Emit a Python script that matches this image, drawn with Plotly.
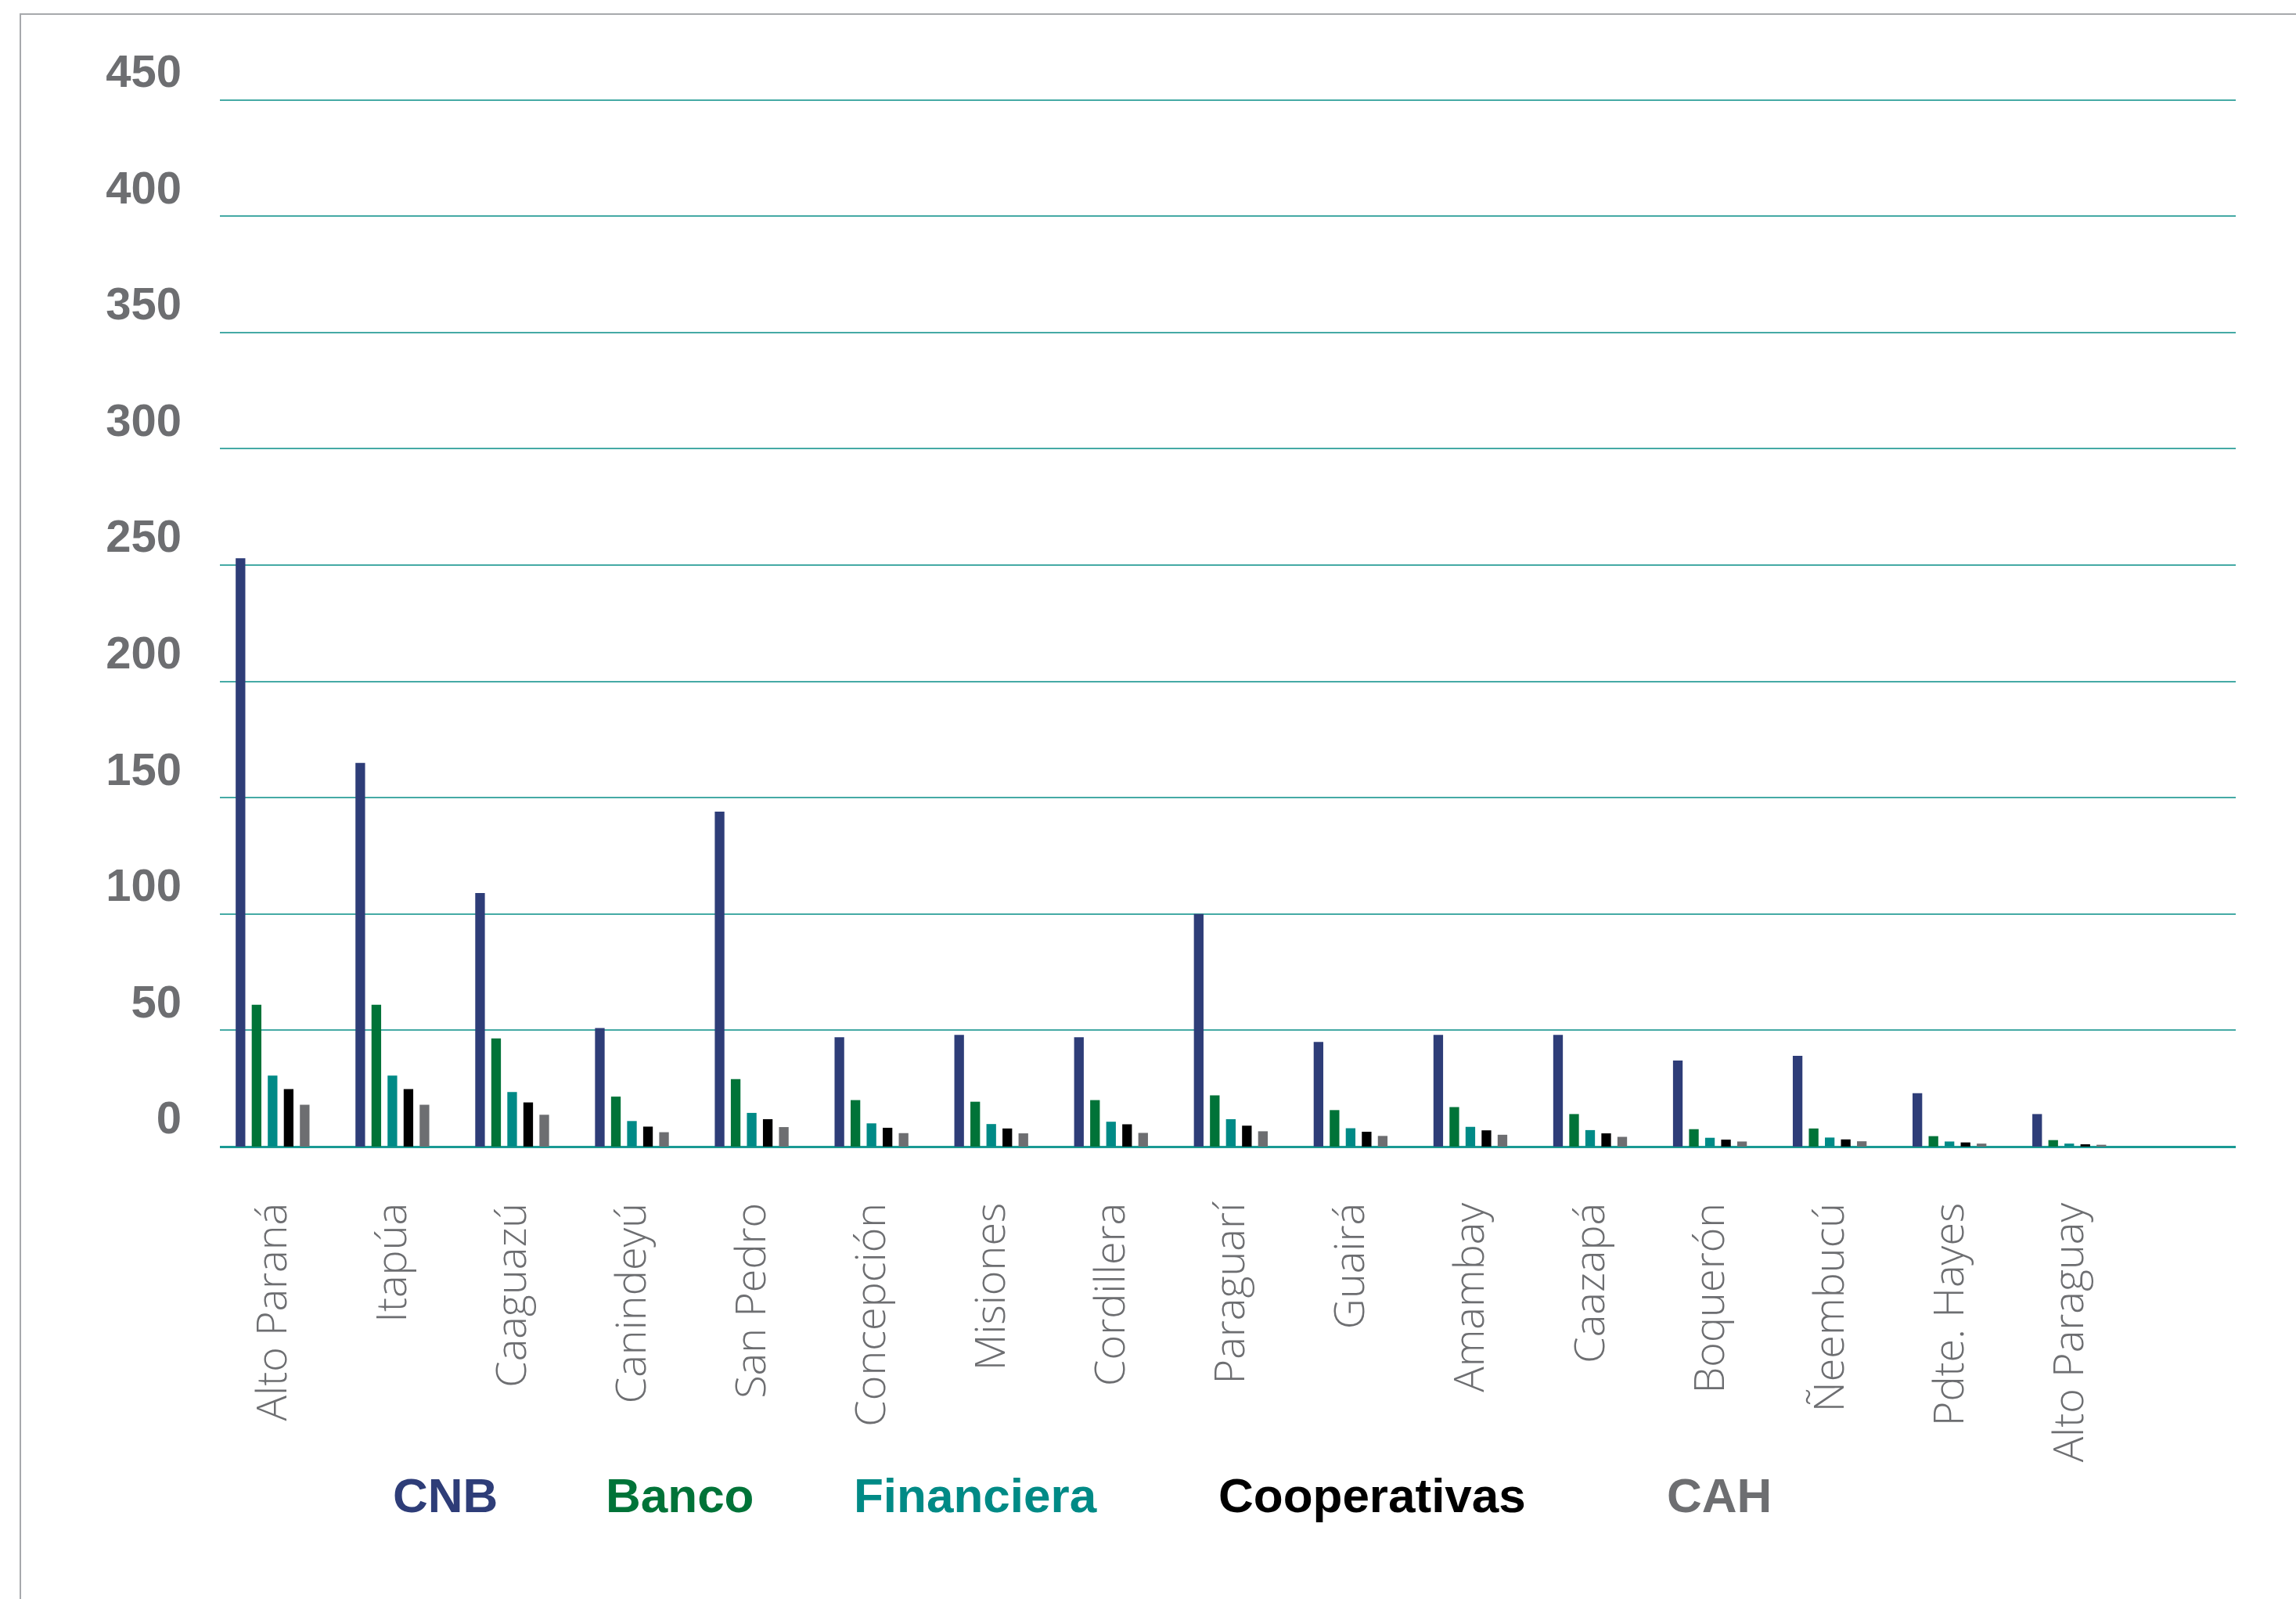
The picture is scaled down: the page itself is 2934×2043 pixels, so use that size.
import plotly.graph_objects as go

categories = ["Alto Paraná", "Itapúa", "Caaguazú", "Canindeyú", "San Pedro", "Concepción",
              "Misiones", "Cordillera", "Paraguarí", "Guairá", "Amambay", "Caazapá",
              "Boquerón", "Ñeembucú", "Pdte. Hayes", "Alto Paraguay"]
cnb = [253, 165, 109, 51, 144, 47, 48, 47, 100, 45, 48, 48, 37, 39, 23, 14]
banco = [61, 61, 46.5, 21.5, 29, 20, 19.3, 20, 22, 15.7, 17, 14, 7.5, 7.8, 4.5, 2.8]
financiera = [30.5, 30.5, 23.5, 11, 14.5, 10, 9.7, 10.7, 11.8, 7.9, 8.5, 7.1, 3.8, 3.9, 2.2, 1.3]
cooperativas = [24.7, 24.7, 19, 8.6, 11.8, 8.1, 7.8, 9.6, 9, 6.4, 7, 5.7, 3, 3.1, 1.8, 1]
cah = [18, 18, 13.7, 6.2, 8.4, 5.8, 5.7, 5.9, 6.6, 4.6, 5.1, 4.2, 2.2, 2.3, 1.3, 0.8]
series_names = ["CNB", "Banco", "Financiera", "Cooperativas", "CAH"]
y_ticks = [0, 50, 100, 150, 200, 250, 300, 350, 400, 450]

colors = ["#2e3d78", "#007338", "#008a86", "#000000", "#6d6e71"]
values = [cnb, banco, financiera, cooperativas, cah]

W, H = 2934, 2043
ML, MR, MT, MB = 281, 77, 98, 578

fig = go.Figure()
for name, vals, col in zip(series_names, values, colors):
    fig.add_trace(go.Bar(x=categories, y=vals, name=name, marker=dict(color=col, line=dict(width=0)),
                         showlegend=False))

fig.update_layout(
    width=W, height=H,
    margin=dict(l=ML, r=MR, t=MT, b=MB, pad=0),
    paper_bgcolor="white", plot_bgcolor="white",
    barmode="group", bargap=0.33, bargroupgap=0.4,
    font=dict(family="Open Sans", color="#6d6e71"),
)
fig.update_xaxes(
    type="category", range=[-0.44, 16.39], showgrid=False, showline=False, zeroline=False,
    tickangle=-90, ticks="", ticklabelstandoff=60,
    tickfont=dict(family="Open Sans", size=54, color="#6d6e71", weight=300),
)
fig.update_yaxes(
    range=[0, 460], tickvals=y_ticks, showgrid=True, gridcolor="#45aaa5", gridwidth=2,
    zeroline=True, zerolinecolor="#1a9a94", zerolinewidth=3, showline=False,
    ticks="", ticklabelstandoff=48, ticklabelshift=-37,
    tickfont=dict(family="Liberation Sans Narrow, Liberation Sans, sans-serif", size=58,
                  color="#6d6e71", weight="bold"),
)

pw = W - ML - MR
ph = H - MT - MB
legend_px = [569, 868, 1246, 1753, 2197]
for name, col, px in zip(series_names, colors, legend_px):
    fig.add_annotation(
        x=(px - ML) / pw, y=(H - MB - 1910) / ph, xref="paper", yref="paper",
        text=name, showarrow=False, xanchor="center", yanchor="middle",
        font=dict(family="Liberation Sans Narrow, Liberation Sans, sans-serif", size=62,
                  color=col, weight="bold"),
    )

# outer frame
fig.add_shape(type="rect", xref="paper", yref="paper",
              x0=(26 - ML) / pw, x1=(W + 20 - ML) / pw,
              y0=(H - MB - (H + 20)) / ph, y1=(H - MB - 18) / ph,
              line=dict(color="#a7a9ac", width=2), fillcolor="rgba(0,0,0,0)", layer="below")

fig.write_html("out.html", config={"displayModeBar": False},
               post_script="document.body.style.margin='0';")
